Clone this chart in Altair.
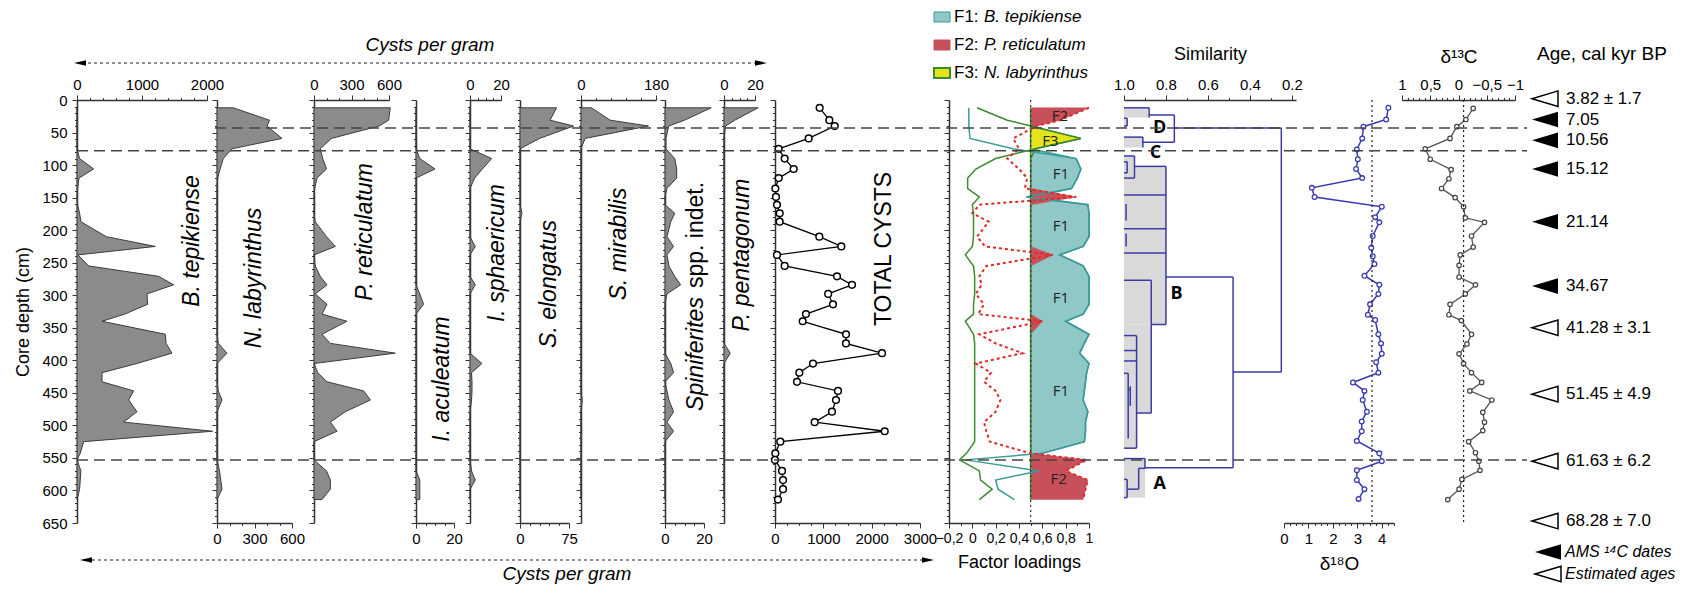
import altair as alt
import pandas as pd

FONT = "Liberation Sans"
OX, OY = 75, 99          # plot origin (reference pixels)
W, H = 1605, 423         # plot area: depth 0-650 cm

# ---------------- data ----------------
depth = [12, 31, 40, 59, 75, 90, 106, 120, 136, 149, 161, 174, 187, 210, 225, 238,
         255, 271, 284, 298, 314, 329, 340, 360, 374, 389, 405, 419, 433, 447, 461,
         479, 495, 509, 525, 543, 553, 570, 584, 598, 614]

b_tepikiense = [0, 0, 0, 0, 0, 40, 256, 30, 10, 0, 10, 40, 60, 450, 1205, 15,
                180, 1256, 1487, 1077, 1087, 735, 385, 1359, 1370, 1461, 920, 385, 385, 872, 795,
                923, 718, 2087, 103, 50, 0, 60, 50, 40, 0]
n_labyrinthus = [130, 420, 400, 520, 120, 50, 25, 5, 0, 0, 0, 0, 0, 0, 0, 0,
                 0, 0, 0, 0, 0, 0, 0, 0, 10, 80, 0, 0, 0, 10, 40,
                 0, 0, 0, 0, 0, 0, 20, 30, 40, 0]
p_reticulatum = [610, 597, 520, 140, 50, 70, 100, 24, 5, 0, 5, 0, 10, 100, 171, 0,
                 10, 50, 104, 10, 104, 64, 264, 64, 131, 650, 0, 30, 104, 397, 451,
                 250, 131, 184, 0, 0, 0, 100, 131, 131, 64]
i_aculeatum = [0, 0, 0, 0, 0, 2, 10, 0, 0, 0, 0, 0, 0, 0, 0, 0,
               0, 0, 0, 2, 4, 0, 0, 0, 0, 0, 0, 0, 0, 0, 0,
               0, 0, 0, 0, 0, 0, 0, 2, 2, 2]
i_sphaericum = [0, 0, 0, 0, 0, 14, 8, 3, 0, 0, 0, 0, 0, 0, 3.4, 0,
                0, 0, 3.4, 0, 0, 0, 0, 0, 0, 0, 7.7, 1, 1.3, 1.3, 1,
                0, 0, 0, 0, 0, 0, 1, 3.4, 0, 0]
s_elongatus = [56, 46, 82, 30, 0, 0, 0, 0, 0, 0, 0, 3, 0, 0, 0, 0,
               0, 0, 0, 0, 0, 0, 0, 0, 0, 0, 0, 0, 0, 0, 0,
               0, 0, 0, 0, 0, 0, 0, 0, 0, 0]
s_mirabilis = [25, 70, 162, 10, 0, 0, 0, 0, 0, 0, 0, 0, 0, 0, 0, 0,
               0, 0, 0, 0, 0, 0, 0, 0, 0, 0, 0, 0, 0, 0, 3,
               0, 0, 0, 0, 0, 0, 0, 0, 0, 0]
spiniferites = [23.7, 10, 1.9, 0.5, 0.5, 5, 6, 6, 1, 0, 0, 5, 3, 1, 4.4, 1,
                2, 5, 8, 1, 0, 0, 0, 0, 0, 0, 3, 4.4, 0, 1, 2,
                4.4, 1, 4.4, 0, 0, 0, 0, 0, 0, 0]
p_pentagonum = [22, 7, 1, 0, 0, 0, 0, 0, 0, 0, 0, 0, 0, 0, 0, 0,
                0, 0, 0, 0, 0, 0, 0, 0, 0, 4, 0, 0, 0, 0, 0,
                0, 0, 0, 0, 0, 0, 0, 0, 0, 0]
total_cysts = [924, 1124, 1235, 697, 76, 200, 386, 76, 7, 20, 41, 97, 97, 917, 1372, 41,
               200, 1283, 1593, 1100, 1200, 641, 573, 1469, 1469, 2214, 786, 503, 455, 1303, 1262,
               1179, 821, 2270, 110, 7, 0, 145, 166, 166, 62]

f1_loading = [-0.03, -0.03, -0.03, -0.02, 0.35, 0.89, 0.93, 0.9, 0.85, 0.46, 0.99, 1.0, 1.0, 1.0, 0.95, 0.75,
              0.95, 1.0, 1.0, 1.0, 1.0, 0.95, 0.8, 1.0, 0.96, 0.92, 1.0, 0.98, 0.97, 0.96, 0.95,
              0.99, 0.97, 0.97, 0.96, 0.6, -0.06, 0.57, 0.2, 0.22, 0.36]
f2_loading = [1.0, 0.75, 0.55, 0.35, 0.4, 0.3, 0.4, 0.47, 0.45, 0.89, 0.06, 0.0, 0.14, 0.04, 0.11, 0.69,
              0.12, 0.06, 0.08, 0.03, 0.1, 0.05, 0.6, 0.06, 0.2, 0.43, 0.03, 0.16, 0.1, 0.2, 0.24,
              0.2, 0.1, 0.12, 0.15, 0.5, 0.98, 0.8, 0.99, 0.97, 0.95]
f3_loading = [0.04, 0.3, 0.5, 0.93, 0.54, 0.2, 0.03, -0.04, -0.04, 0.06, 0.0, 0.01, 0.01, 0.01, 0.0, -0.06,
              0.01, 0.02, 0.02, 0.02, 0.01, 0.01, -0.06, 0.01, 0.02, 0.02, 0.02, 0.02, 0.02, 0.02, 0.02,
              0.02, 0.02, 0.02, 0.02, -0.05, -0.11, 0.06, 0.07, 0.17, 0.06]
factor_threshold = 0.5
factor_label_text = ["F2", "F3", "F1", "F1", "F1", "F1", "F2"]
factor_label_x = [0.75, 0.67, 0.76, 0.76, 0.76, 0.76, 0.74]
factor_label_depth = [25, 63, 114, 194, 304, 447, 582]

d18o_depth = [12, 30, 41, 59, 76, 91, 106, 120, 135, 149, 164, 180, 188, 209, 227, 240, 252, 270, 284, 298,
              314, 330, 338, 360, 374, 390, 403, 419, 434, 447, 461, 479, 494, 509, 524, 543, 555, 569,
              584, 598, 613]
d18o = [4.27, 4.18, 3.25, 3.2, 2.98, 3.02, 2.95, 3.2, 1.14, 1.25, 4.0, 3.73, 3.9, 3.63, 3.57, 3.63, 3.7,
        3.29, 3.9, 3.86, 3.52, 3.43, 3.73, 3.86, 3.97, 4.0, 3.77, 3.86, 2.82, 3.29, 3.22, 3.39, 3.18,
        3.18, 2.98, 3.9, 4.0, 2.98, 2.98, 3.29, 3.05]
d18o_mean = 3.6
d13c_depth = [13, 30, 41, 59, 75, 91, 107, 121, 136, 150, 164, 181, 188, 209, 226, 238, 254, 272, 284, 298,
              314, 330, 339, 360, 375, 390, 405, 419, 434, 447, 461, 480, 495, 508, 525, 542, 555, 569,
              583, 598, 614]
d13c = [-0.26, -0.13, 0.03, 0.15, 0.59, 0.5, 0.13, 0.17, 0.3, 0.06, -0.09, -0.12, -0.46, -0.23, -0.26,
        -0.03, -0.01, -0.01, -0.3, -0.12, 0.15, 0.17, -0.05, -0.23, -0.15, -0.01, -0.09, -0.23, -0.41,
        -0.2, -0.59, -0.43, -0.46, -0.43, -0.18, -0.3, -0.36, -0.38, -0.06, -0.01, 0.19]
d13c_mean = -0.09

# dendrogram: shaded clusters (similarity left, right, depth top, bottom) and links
dendro_boxes = [(1.0, 0.88, 12, 27), (1.0, 0.985, 27, 42), (1.0, 0.91, 57, 73), (1.0, 0.95, 86, 103),
                (1.0, 0.80, 103, 345), (1.0, 0.867, 345, 481), (1.0, 0.94, 481, 535), (1.0, 0.90, 551, 611)]
dendro_links = [
    (1.0, 12, 0.88, 12), (0.88, 12, 0.88, 27), (0.88, 23, 0.76, 23),
    (1.0, 28, 0.985, 28), (0.985, 28, 0.985, 40), (0.985, 40, 1.0, 40),
    (0.76, 23, 0.76, 65),
    (1.0, 57, 0.91, 57), (0.91, 57, 0.91, 73), (0.91, 65, 0.76, 65),
    (0.76, 43, 0.25, 43),
    (0.25, 43, 0.25, 418), (0.25, 418, 0.48, 418),
    (0.48, 272, 0.48, 565), (0.48, 272, 0.80, 272), (0.48, 565, 0.90, 565),
    (0.80, 102, 0.80, 345), (0.95, 102, 0.80, 102), (1.0, 86, 0.95, 86), (0.95, 86, 0.95, 120),
    (1.0, 120, 0.95, 120), (0.985, 95, 0.985, 112), (1.0, 95, 0.985, 95), (1.0, 112, 0.985, 112),
    (1.0, 146, 0.80, 146), (1.0, 198, 0.80, 198), (1.0, 235, 0.80, 235),
    (0.99, 205, 0.99, 225), (0.99, 160, 0.99, 185),
    (1.0, 277, 0.87, 277), (0.87, 277, 0.87, 481), (0.87, 345, 0.80, 345),
    (1.0, 362, 0.94, 362), (0.94, 362, 0.94, 535), (1.0, 385, 0.94, 385), (1.0, 401, 0.94, 401),
    (0.94, 481, 0.87, 481), (1.0, 535, 0.94, 535),
    (0.98, 420, 0.98, 520), (1.0, 420, 0.98, 420), (0.97, 440, 0.97, 470), (0.98, 445, 0.97, 445),
    (1.0, 551, 0.90, 551), (0.90, 551, 0.90, 566), (0.93, 566, 0.90, 566), (0.93, 566, 0.93, 598),
    (0.985, 598, 0.93, 598), (0.985, 583, 0.985, 611), (1.0, 611, 0.985, 611), (1.0, 583, 0.985, 583)]
cluster_names = ["D", "C", "B", "A"]
cluster_sim = [0.83, 0.85, 0.75, 0.83]
cluster_depth = [43, 81, 298, 590]

zone_bounds = [43, 78, 553]

age_text = ["3.82 ± 1.7", "7.05", "10.56", "15.12", "21.14", "34.67",
            "41.28 ± 3.1", "51.45 ± 4.9", "61.63 ± 6.2", "68.28 ± 7.0"]
age_depth = [-2, 30, 62, 106, 187, 286, 350, 452, 555, 647]
age_kind = ["est", "ams", "ams", "ams", "ams", "ams", "est", "est", "est", "est"]

# ---------------- helpers ----------------
one = pd.DataFrame({"k": [0]})
YS = alt.Scale(domain=[0, 650], reverse=True, nice=False, zero=False)


def sc(dom, rng):
    return alt.Scale(domain=dom, range=[rng[0] - OX, rng[1] - OX], nice=False, zero=False)


def tsize(test, big=5, small=2.5):
    return {"condition": {"test": test, "value": big}, "value": small}


def yax(xpos, main=False):
    kw = dict(orient="left", offset=-(xpos - OX), values=list(range(0, 651, 10)),
              tickSize=tsize("datum.value % 50 === 0"), labelOverlap=False)
    if main:
        kw.update(labelExpr="datum.value % 50 === 0 ? datum.label : ''", labelPadding=5,
                  titlePadding=9, titleFontSize=18)
    else:
        kw.update(labels=False)
    return alt.Axis(**kw)


def xax(orient, lo, hi, step, test, fmt, **extra):
    n = int(round((hi - lo) / step))
    vals = [round(lo + i * step, 4) for i in range(n + 1)]
    kw = dict(orient=orient, values=vals, labelExpr=f"({test}) ? {fmt} : ''",
              tickSize=tsize(test), labelOverlap=False, labelFlush=False, labelPadding=3)
    kw.update(extra)
    return alt.Axis(**kw)


def txt(s, x, y, size=15, style="normal", weight="normal", angle=0, align="center",
        font=FONT, color="black"):
    return alt.Chart(one).mark_text(text=s, font=font, fontSize=size, fontStyle=style,
                                    fontWeight=weight, angle=angle, align=align,
                                    baseline="middle", color=color).encode(
        x=alt.value(x - OX), y=alt.value(y - OY))


def hrule(x1, x2, y, dash, width=1.2, color="#222"):
    return alt.Chart(one).mark_rule(strokeDash=dash, strokeWidth=width, color=color).encode(
        x=alt.value(x1 - OX), x2=alt.value(x2 - OX), y=alt.value(y - OY))


LEFT_HEAD = "M-1,0L1,-0.45L1,0.45Z"
RIGHT_HEAD = "M1,0L-1,-0.45L-1,0.45Z"
AGE_TRI = "M-1,0L1,-0.6L1,0.6Z"


def head(x, y, path, size=144):
    return alt.Chart(one).mark_point(shape=path, size=size, filled=True, color="black",
                                     opacity=1).encode(x=alt.value(x - OX), y=alt.value(y - OY))


def box(x1, x2, y1, y2, fill, stroke, sw=1):
    return alt.Chart(one).mark_rect(fill=fill, stroke=stroke, strokeWidth=sw).encode(
        x=alt.value(x1 - OX), x2=alt.value(x2 - OX), y=alt.value(y1 - OY), y2=alt.value(y2 - OY))


layers = []

# ---------------- species panels ----------------
DIGIT = "format(datum.value, 'd')"
panels = [
    (b_tepikiense, [0, 2000], (75, 205), "top", 200, "datum.value % 1000 === 0", True),
    (n_labyrinthus, [0, 600], (215, 290), "bottom", 100, "datum.value % 300 === 0", False),
    (p_reticulatum, [0, 600], (312, 387), "top", 100, "datum.value % 300 === 0", False),
    (i_aculeatum, [0, 20], (414, 452), "bottom", 5, "datum.value % 20 === 0", False),
    (i_sphaericum, [0, 20], (468, 499), "top", 5, "datum.value % 20 === 0", False),
    (s_elongatus, [0, 75], (518, 567), "bottom", 15, "datum.value % 75 === 0", False),
    (s_mirabilis, [0, 180], (579, 654), "top", 36, "datum.value % 180 === 0", False),
    (spiniferites, [0, 20], (663, 702), "bottom", 5, "datum.value % 20 === 0", False),
    (p_pentagonum, [0, 20], (722, 753), "top", 5, "datum.value % 20 === 0", False),
]
for vals, dom, rng, orient, step, test, main in panels:
    df = pd.DataFrame({"depth": depth, "v": vals, "b": 0.0})
    layers.append(
        alt.Chart(df).mark_area(orient="horizontal", fill="#8b8b8b", stroke="#3c3c3c",
                                strokeWidth=1, fillOpacity=1).encode(
            x=alt.X("v:Q", scale=sc(dom, rng), axis=xax(orient, dom[0], dom[1], step, test, DIGIT),
                    title=None),
            x2="b:Q",
            y=alt.Y("depth:Q", scale=YS, axis=yax(rng[0], main),
                    title="Core depth (cm)" if main else None),
        )
    )

# ---------------- total cysts ----------------
tot = pd.DataFrame({"depth": depth, "v": total_cysts})
TOT_SC = sc([0, 3000], (773, 918))
layers.append(alt.Chart(tot).mark_line(color="black", strokeWidth=1.3).encode(
    x=alt.X("v:Q", scale=TOT_SC, axis=xax("bottom", 0, 3000, 250, "datum.value % 1000 === 0", DIGIT),
            title=None),
    y=alt.Y("depth:Q", scale=YS, axis=yax(773), title=None),
    order=alt.Order("depth:Q")))
layers.append(alt.Chart(tot).mark_point(shape="circle", size=45, fill="white", stroke="black",
                                        strokeWidth=1.5, opacity=1, fillOpacity=1).encode(
    x=alt.X("v:Q", scale=TOT_SC, axis=None), y=alt.Y("depth:Q", scale=YS, axis=None)))

# ---------------- factor loadings ----------------
FAC_SC = sc([-0.2, 1.0], (947, 1087))
fac = pd.DataFrame({"depth": depth, "f1": f1_loading, "f2": f2_loading, "f3": f3_loading})
fac["base"] = factor_threshold
for c in ["f1", "f2", "f3"]:
    fac[c + "fill"] = fac[c].clip(lower=factor_threshold)
COMMA = "replace(format(datum.value, '.1~f'), '.', ',')"
fill_styles = [("f1fill", "#8fc8c6", "#3a9b99", 1.5), ("f2fill", "#c8505b", "#c8505b", 0.5),
               ("f3fill", "#e4e41e", "#3d8b2f", 1.5)]
for i, (col, fill, stroke, sw) in enumerate(fill_styles):
    xa = xax("bottom", -0.2, 1.0, 0.1, "abs(round(datum.value*10)) % 2 === 0", COMMA,
             labelFontSize=14, titlePadding=8, titleFontSize=18) if i == 0 else None
    layers.append(alt.Chart(fac).mark_area(orient="horizontal", fill=fill, stroke=stroke,
                                           strokeWidth=sw, fillOpacity=1).encode(
        x=alt.X(f"{col}:Q", scale=FAC_SC, axis=xa, title="Factor loadings" if i == 0 else None),
        x2="base:Q",
        y=alt.Y("depth:Q", scale=YS, axis=yax(947) if i == 0 else None, title=None)))
line_styles = [("f1", "#3a9b99", None, 1.5), ("f3", "#3d8b2f", None, 1.5), ("f2", "#e02a2a", [3, 3], 2)]
for col, color, dash, sw in line_styles:
    mk = dict(color=color, strokeWidth=sw)
    if dash:
        mk["strokeDash"] = dash
    layers.append(alt.Chart(fac).mark_line(**mk).encode(
        x=alt.X(f"{col}:Q", scale=FAC_SC, axis=None),
        y=alt.Y("depth:Q", scale=YS, axis=None), order=alt.Order("depth:Q")))
thr = pd.DataFrame({"v": [factor_threshold], "d0": [0], "d1": [650]})
layers.append(alt.Chart(thr).mark_rule(color="#333", strokeDash=[2, 3], strokeWidth=1.2).encode(
    x=alt.X("v:Q", scale=FAC_SC, axis=None), y=alt.Y("d0:Q", scale=YS, axis=None), y2="d1:Q"))
flab = pd.DataFrame({"t": factor_label_text, "v": factor_label_x, "depth": factor_label_depth})
layers.append(alt.Chart(flab).mark_text(font="Open Sans", fontSize=15, color="#222").encode(
    x=alt.X("v:Q", scale=FAC_SC, axis=None), y=alt.Y("depth:Q", scale=YS, axis=None), text="t:N"))

# ---------------- dendrogram ----------------
SIM_SC = sc([1.0, 0.18], (1122, 1294))
bx = pd.DataFrame(dendro_boxes, columns=["s1", "s2", "d1", "d2"])
lk = pd.DataFrame(dendro_links, columns=["s1", "d1", "s2", "d2"])
layers.append(alt.Chart(bx).mark_rect(fill="#d9d9d9").encode(
    x=alt.X("s1:Q", scale=SIM_SC,
            axis=xax("top", 0.2, 1.0, 0.1, "round(datum.value*10) % 2 === 0",
                     "format(datum.value, '.1f')", titlePadding=14, titleFontSize=18),
            title="Similarity"),
    x2="s2:Q", y=alt.Y("d1:Q", scale=YS, axis=None), y2="d2:Q"))
layers.append(alt.Chart(lk).mark_rule(color="#3b3ba3", strokeWidth=1.5).encode(
    x=alt.X("s1:Q", scale=SIM_SC, axis=None), x2="s2:Q",
    y=alt.Y("d1:Q", scale=YS, axis=None), y2="d2:Q"))
cl = pd.DataFrame({"t": cluster_names, "v": cluster_sim, "depth": cluster_depth})
layers.append(alt.Chart(cl).mark_text(font="Open Sans", fontSize=18, fontWeight="bold",
                                      color="black").encode(
    x=alt.X("v:Q", scale=SIM_SC, axis=None), y=alt.Y("depth:Q", scale=YS, axis=None), text="t:N"))

# ---------------- isotopes ----------------
D18_SC = sc([0, 4.5], (1282, 1392))
o18 = pd.DataFrame({"depth": d18o_depth, "v": d18o})
layers.append(alt.Chart(o18).mark_line(color="#3a3ab0", strokeWidth=1.5).encode(
    x=alt.X("v:Q", scale=D18_SC,
            axis=xax("bottom", 0, 4.5, 0.25, "datum.value % 1 === 0", DIGIT,
                     titlePadding=8, titleFontSize=19),
            title="δ¹⁸O"),
    y=alt.Y("depth:Q", scale=YS, axis=None), order=alt.Order("depth:Q")))
layers.append(alt.Chart(o18).mark_point(shape="circle", size=22, fill="white", stroke="#3a3ab0",
                                        strokeWidth=1.3, opacity=1, fillOpacity=1).encode(
    x=alt.X("v:Q", scale=D18_SC, axis=None), y=alt.Y("depth:Q", scale=YS, axis=None)))
m18 = pd.DataFrame({"v": [d18o_mean], "d0": [0], "d1": [650]})
layers.append(alt.Chart(m18).mark_rule(color="#222", strokeDash=[2, 3], strokeWidth=1.2).encode(
    x=alt.X("v:Q", scale=D18_SC, axis=None), y=alt.Y("d0:Q", scale=YS, axis=None), y2="d1:Q"))

D13_SC = sc([1.0, -1.0], (1400, 1513))
c13 = pd.DataFrame({"depth": d13c_depth, "v": d13c})
layers.append(alt.Chart(c13).mark_line(color="#555", strokeWidth=1.3).encode(
    x=alt.X("v:Q", scale=D13_SC,
            axis=xax("top", -1.0, 1.0, 0.1, "round(datum.value*10) % 5 === 0", COMMA,
                     titlePadding=11, titleFontSize=19),
            title="δ¹³C"),
    y=alt.Y("depth:Q", scale=YS, axis=None), order=alt.Order("depth:Q")))
layers.append(alt.Chart(c13).mark_point(shape="circle", size=20, fill="white", stroke="#444",
                                        strokeWidth=1.2, opacity=1, fillOpacity=1).encode(
    x=alt.X("v:Q", scale=D13_SC, axis=None), y=alt.Y("depth:Q", scale=YS, axis=None)))
m13 = pd.DataFrame({"v": [d13c_mean], "d0": [0], "d1": [650]})
layers.append(alt.Chart(m13).mark_rule(color="#222", strokeDash=[2, 3], strokeWidth=1.2).encode(
    x=alt.X("v:Q", scale=D13_SC, axis=None), y=alt.Y("d0:Q", scale=YS, axis=None), y2="d1:Q"))

# ---------------- zone boundaries ----------------
zb = pd.DataFrame({"depth": zone_bounds})
layers.append(alt.Chart(zb).transform_filter("datum.depth < 60").mark_rule(
    color="#444", strokeDash=[11, 6], strokeWidth=1.5).encode(
    x=alt.value(213 - OX), x2=alt.value(1525 - OX), y=alt.Y("depth:Q", scale=YS, axis=None)))
layers.append(alt.Chart(zb).transform_filter("datum.depth >= 60").mark_rule(
    color="#444", strokeDash=[11, 6], strokeWidth=1.5).encode(
    x=alt.value(75 - OX), x2=alt.value(1525 - OX), y=alt.Y("depth:Q", scale=YS, axis=None)))

# ---------------- ages ----------------
ages = pd.DataFrame({"t": age_text, "depth": age_depth, "kind": age_kind})
layers.append(alt.Chart(ages).transform_filter("datum.kind === 'ams'").mark_point(
    shape=AGE_TRI, size=676, filled=True, color="black", opacity=1).encode(
    x=alt.value(1543 - OX), y=alt.Y("depth:Q", scale=YS, axis=None)))
layers.append(alt.Chart(ages).transform_filter("datum.kind === 'est'").mark_point(
    shape=AGE_TRI, size=676, fill="white", stroke="black", strokeWidth=1.5, opacity=1,
    fillOpacity=1).encode(x=alt.value(1543 - OX), y=alt.Y("depth:Q", scale=YS, axis=None)))
layers.append(alt.Chart(ages).mark_text(font=FONT, fontSize=17, align="left", color="black").encode(
    x=alt.value(1564 - OX), y=alt.Y("depth:Q", scale=YS, axis=None), text="t:N"))

layers += [
    alt.Chart(one).mark_point(shape=AGE_TRI, size=676, filled=True, color="black", opacity=1).encode(
        x=alt.value(1546 - OX), y=alt.value(551 - OY)),
    alt.Chart(one).mark_point(shape=AGE_TRI, size=676, fill="white", stroke="black", strokeWidth=1.5,
                              opacity=1, fillOpacity=1).encode(
        x=alt.value(1546 - OX), y=alt.value(573 - OY)),
    txt("AMS ¹⁴C dates", 1563, 551, size=16, style="italic", align="left"),
    txt("Estimated ages", 1563, 573, size=16, style="italic", align="left"),
    txt("Age, cal kyr BP", 1600, 53, size=19),
]

# ---------------- labels & annotations ----------------
SP = 23
layers += [
    txt("B. tepikiense", 190, 240, size=SP, style="italic", angle=270),
    txt("N.  labyrinthus", 252, 277, size=SP, style="italic", angle=270),
    txt("P. reticulatum", 363, 231, size=SP, style="italic", angle=270),
    txt("I. aculeatum", 440, 378, size=SP, style="italic", angle=270),
    txt("I. sphaericum", 495, 252, size=SP, style="italic", angle=270),
    txt("S. elongatus", 547, 283, size=SP, style="italic", angle=270),
    txt("S. mirabilis", 617, 243, size=SP, style="italic", angle=270),
    txt("Spiniferites", 694, 353, size=SP, style="italic", angle=270),
    txt("spp. indet.", 694, 234, size=SP, angle=270),
    txt("P. pentagonum", 740, 254, size=SP, style="italic", angle=270),
    txt("TOTAL CYSTS", 882, 248, size=23, angle=270),
    # cysts per gram arrows
    txt("Cysts per gram", 428, 44, size=19, style="italic"),
    hrule(80, 758, 62, [3, 3]),
    head(78, 62, LEFT_HEAD), head(759, 62, RIGHT_HEAD),
    txt("Cysts per gram", 565, 573, size=19, style="italic"),
    hrule(84, 926, 559, [3, 3]),
    head(84, 559, LEFT_HEAD), head(926, 559, RIGHT_HEAD),
    # factor legend
    box(932, 948, 11, 21, "#8fc8c6", "#3a9b99"),
    box(932, 948, 39, 49, "#c8505b", "#c8505b"),
    box(932, 948, 67, 77, "#e4e41e", "#3d8b2f", 2),
    txt("F1:", 952, 16, size=17, align="left"),
    txt("F2:", 952, 44, size=17, align="left"),
    txt("F3:", 952, 72, size=17, align="left"),
    txt("B. tepikiense", 982, 16, size=17, style="italic", align="left"),
    txt("P. reticulatum", 982, 44, size=17, style="italic", align="left"),
    txt("N. labyrinthus", 982, 72, size=17, style="italic", align="left"),
]

chart = alt.layer(*layers).resolve_scale(x="independent").resolve_axis(
    x="independent", y="independent").properties(
    width=W, height=H, padding={"left": 6, "top": 0, "right": 0, "bottom": 0}
).configure(font=FONT).configure_view(stroke=None).configure_axis(
    labelFont=FONT, titleFont=FONT, labelFontSize=15, titleFontSize=17, titleFontWeight="normal",
    labelColor="black", titleColor="black", domainColor="#333", tickColor="#333",
    domainWidth=1.5, tickWidth=1, grid=False)

chart.save("out.html", embed_options={"renderer": "svg", "actions": False})
